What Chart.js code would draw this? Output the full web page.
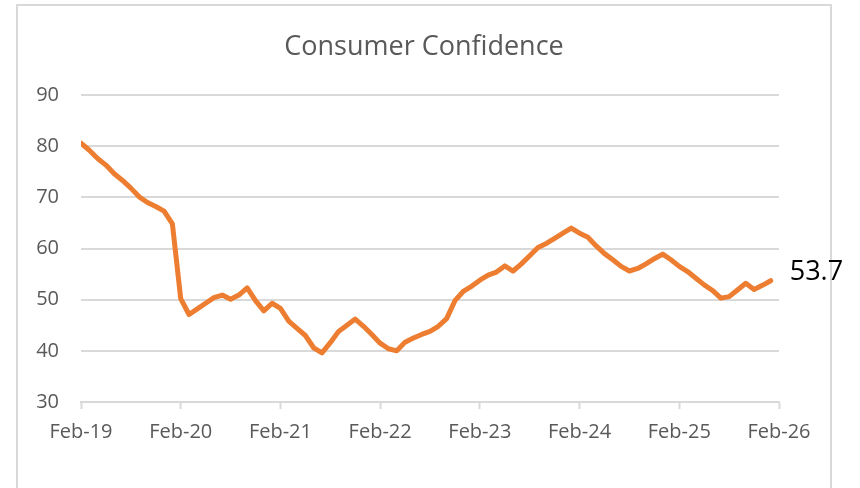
<!DOCTYPE html>
<html>
<head>
<meta charset="utf-8">
<script src="https://cdn.jsdelivr.net/npm/chart.js@4.4.1/dist/chart.umd.min.js"></script>
<style>
  html, body { margin:0; padding:0; background:#fff; }
  #wrap { position:relative; width:860px; height:488px; overflow:hidden; }
  #frame { position:absolute; left:16px; top:4px; width:816px; height:520px; box-sizing:border-box; border:2px solid #d9d9d9; }
  #c { position:absolute; left:0; top:0; }
</style>
</head>
<body>
<div id="wrap">
  <div id="frame"></div>
  <canvas id="c" width="860" height="488"></canvas>
</div>
<script>
    // monthly readings, Feb-19 .. Jan-26
    const VALUES = [
        80.6, 79.2, 77.6, 76.3, 74.6, 73.3, 71.8, 70.1, 69.0, 68.2, 67.3, 64.8,
        50.2, 47.1, 48.2, 49.3, 50.4, 50.9, 50.1, 50.9, 52.3, 49.8, 47.8, 49.3,
        48.3, 45.8, 44.4, 43.0, 40.6, 39.6, 41.6, 43.8, 45.0, 46.2, 44.8, 43.2,
        41.5, 40.4, 40.0, 41.7, 42.5, 43.2, 43.8, 44.8, 46.3, 49.8, 51.6, 52.6,
        53.8, 54.8, 55.4, 56.6, 55.6, 57.0, 58.6, 60.2, 61.0, 62.0, 63.0, 64.0,
        63.0, 62.2, 60.5, 59.0, 57.8, 56.5, 55.6, 56.1, 57.0, 58.0, 58.9, 57.8,
        56.5, 55.5, 54.2, 52.9, 51.8, 50.3, 50.6, 51.9, 53.2, 52.0, 52.8, 53.7
    ];
    const YEAR_LABELS = ['Feb-19', 'Feb-20', 'Feb-21', 'Feb-22', 'Feb-23', 'Feb-24', 'Feb-25', 'Feb-26'];
    const Y_TICKS = [30, 40, 50, 60, 70, 80, 90];
    const TITLE = 'Consumer Confidence';

    const GREY = '#d9d9d9';
    const TXT = '#595959';
    const FONT = "'Open Sans', sans-serif";

    // title centred on the outer frame, plus the end-value callout
    const extras = {
        id: 'extras',
        afterDatasetsDraw(chart) {
            const ctx = chart.ctx;
            const pts = chart.getDatasetMeta(0).data;
            const p = pts[pts.length - 1];
            ctx.save();
            ctx.textBaseline = 'middle';
            ctx.textAlign = 'center';
            ctx.font = "27px " + FONT;
            ctx.fillStyle = TXT;
            ctx.fillText(TITLE, 424, 47);
            ctx.textAlign = 'left';
            ctx.fillStyle = '#000';
            ctx.fillText(VALUES[VALUES.length - 1].toFixed(1), p.x + 19, p.y - 8);
            ctx.restore();
        }
    };

    new Chart(document.getElementById('c').getContext('2d'), {
        type: 'line',
        data: {
            datasets: [{
                data: VALUES.map((v, i) => ({x: i, y: v})),
                borderColor: '#ed7d31', borderWidth: 5,
                borderJoinStyle: 'round', borderCapStyle: 'round',
                pointRadius: 0, tension: 0, fill: false
            }]
        },
        options: {
            responsive: false, animation: false,
            layout: { padding: { left: 0, right: 81, top: 95, bottom: 0 } },
            plugins: { legend: { display: false }, tooltip: { enabled: false }, title: { display: false } },
            scales: {
                x: {
                    type: 'linear', min: 0, max: (YEAR_LABELS.length - 1) * 12,
                    afterFit(s) { s.height = 86; },
                    afterBuildTicks(s) { s.ticks = YEAR_LABELS.map((l, k) => ({ value: k * 12 })); },
                    ticks: { color: TXT, font: { family: FONT, size: 20 }, padding: 11, maxRotation: 0,
                        autoSkip: false, callback: (v) => YEAR_LABELS[v / 12] },
                    grid: { drawOnChartArea: false, tickLength: 7, tickColor: GREY, tickWidth: 2 },
                    border: { display: true, color: GREY, width: 2 }
                },
                y: {
                    min: Y_TICKS[0], max: Y_TICKS[Y_TICKS.length - 1],
                    afterFit(s) { s.width = 81; },
                    afterBuildTicks(s) { s.ticks = Y_TICKS.map(v => ({ value: v })); },
                    ticks: { color: TXT, font: { family: FONT, size: 20 }, padding: 22 },
                    grid: { color: GREY, lineWidth: 2, drawTicks: false },
                    border: { display: false }
                }
            }
        },
        plugins: [extras]
    });
</script>
</body>
</html>
